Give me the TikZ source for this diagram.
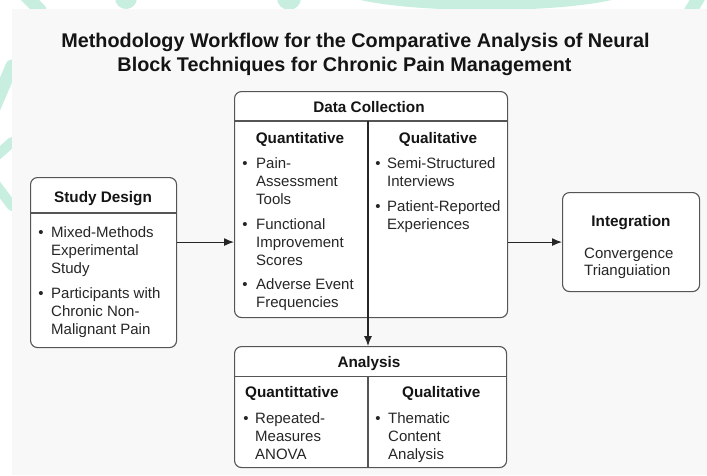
\documentclass[tikz,border=0pt]{standalone}
\usepackage{fontspec}
\setmainfont{Liberation Sans}
\usetikzlibrary{arrows.meta}

\definecolor{mint}{HTML}{C8EEDF}
\definecolor{panel}{HTML}{F8F8F8}
\definecolor{edge}{HTML}{555555}
\definecolor{ink}{HTML}{141414}
\definecolor{body}{HTML}{262626}

\tikzset{
  card/.style={draw=edge, line width=1.1pt, rounded corners=7pt, fill=white, inner sep=0pt, anchor=north west},
  rule/.style={draw=edge, line width=1.1pt},
  flow/.style={draw=black!85, line width=1.1pt, -{Latex[length=10pt,width=8pt]}},
  head/.style={font=\fontsize{15.3}{18}\selectfont\bfseries, text=ink, inner sep=0pt, anchor=base},
  item/.style={font=\fontsize{15}{18}\selectfont, text=body, inner sep=0pt, anchor=base west},
  dot/.style={font=\fontsize{15}{18}\selectfont, text=body, inner sep=0pt, anchor=base},
  title/.style={font=\fontsize{19.8}{24}\selectfont\bfseries, text=ink, inner sep=0pt, anchor=base},
  leaf/.style={line width=13pt, draw=mint, line cap=round},
}

\begin{document}
\begin{tikzpicture}[x=1pt, y=-1pt]
  \useasboundingbox (0,0) rectangle (707,475);
  \fill[white] (0,0) rectangle (707,475);

  % decorative mint strokes along the top and left margins
  \begin{scope}
    \clip (0,0) rectangle (707,475);
    \draw[leaf] (22,-8) -- (40,10);
    \fill[mint] (126,-2) circle (11);
    \fill[mint] (289,-2) circle (12);
    \fill[mint] (486,-12) ellipse (150 and 22);
    \draw[leaf] (702,-8) -- (690,12);
    \draw[leaf] (-6,108) -- (12,66);
    \draw[leaf, line width=10pt] (-6,158) -- (12,142);
    \draw[leaf, line width=10pt] (-6,182) -- (12,206);
  \end{scope}

  % page panel
  \fill[panel] (12,9) rectangle (707,475);

  % title
  \node[title] (t1) at (355.5,47) {Methodology Workflow for the Comparative Analysis of Neural};
  \node[title] (t2) at (344.5,71) {Block Techniques for Chronic Pain Management};

  % boxes
  \node[card, minimum width=146pt, minimum height=170pt] (sd) at (30,177) {};
  \node[card, minimum width=273pt, minimum height=226pt] (dc) at (234,91) {};
  \node[card, minimum width=272pt, minimum height=121pt] (an) at (234,346) {};
  \node[card, minimum width=137pt, minimum height=99pt]  (ig) at (562,192) {};

  % header rules and column splits
  \draw[rule] ([yshift=-36pt]sd.north west) -- ([yshift=-36pt]sd.north east);
  \draw[rule] ([yshift=-30pt]dc.north west) -- ([yshift=-30pt]dc.north east);
  \draw[rule] ([yshift=-30.5pt]an.north west) -- ([yshift=-30.5pt]an.north east);
  \coordinate (dcsplit) at (368,121);
  \coordinate (ansplit) at (368,376.5);
  \draw[rule] (ansplit) -- (ansplit |- an.south);

  % connectors
  \draw[flow] (sd.east |- ig.west) -- (dc.west |- ig.west);
  \draw[flow] (dc.east |- ig.west) -- (ig.west);
  \draw[flow] (dcsplit) -- (dcsplit |- an.north);

  % Study Design
  \node[head] (sdh) at (103,202) {Study Design};
  \node[dot] (sdb1) at (41,237) {\textbullet};
  \node[dot] (sdb2) at (41,298) {\textbullet};
  \foreach \y/\t [count=\i] in {237/Mixed-Methods, 255/Experimental, 273/Study,
      298/Participants with, 316/Chronic Non-, 334/Malignant Pain}
    \node[item] (sd-\i) at (51,\y) {\t};

  % Data Collection
  \node[head] (dch) at (369,112) {Data Collection};
  \node[head] (dcq) at (300,143) {Quantitative};
  \node[head] (dcl) at (438,143) {Qualitative};
  \foreach \y [count=\i] in {168,229,289}
    \node[dot] (dcqb-\i) at (245,\y) {\textbullet};
  \foreach \y/\t [count=\i] in {168/Pain-, 186/Assessment, 204/Tools,
      229/Functional, 247/Improvement, 265/Scores,
      289/Adverse Event, 307/Frequencies}
    \node[item] (dcq-\i) at (256,\y) {\t};
  \foreach \y [count=\i] in {168,211}
    \node[dot] (dclb-\i) at (378,\y) {\textbullet};
  \foreach \y/\t [count=\i] in {168/Semi-Structured, 186/Interviews,
      211/Patient-Reported, 229/Experiences}
    \node[item] (dcl-\i) at (387,\y) {\t};

  % Analysis
  \node[head] (anh) at (369,367) {Analysis};
  \node[head, anchor=base west] (anq) at (245,397) {Quantittative};
  \node[head, anchor=base west] (anl) at (402,397) {Qualitative};
  \node[dot] (anqb) at (246,423) {\textbullet};
  \node[dot] (anlb) at (378,423) {\textbullet};
  \foreach \y/\t [count=\i] in {423/Repeated-, 441/Measures, 459/ANOVA}
    \node[item] (anq-\i) at (255,\y) {\t};
  \foreach \y/\t [count=\i] in {423/Thematic, 441/Content, 459/Analysis}
    \node[item] (anl-\i) at (388,\y) {\t};

  % Integration
  \node[head] (igh) at (631,226) {Integration};
  \node[item] (ig-1) at (584,258) {Convergence};
  \node[item] (ig-2) at (584,275) {Trianguiation};
\end{tikzpicture}
\end{document}
